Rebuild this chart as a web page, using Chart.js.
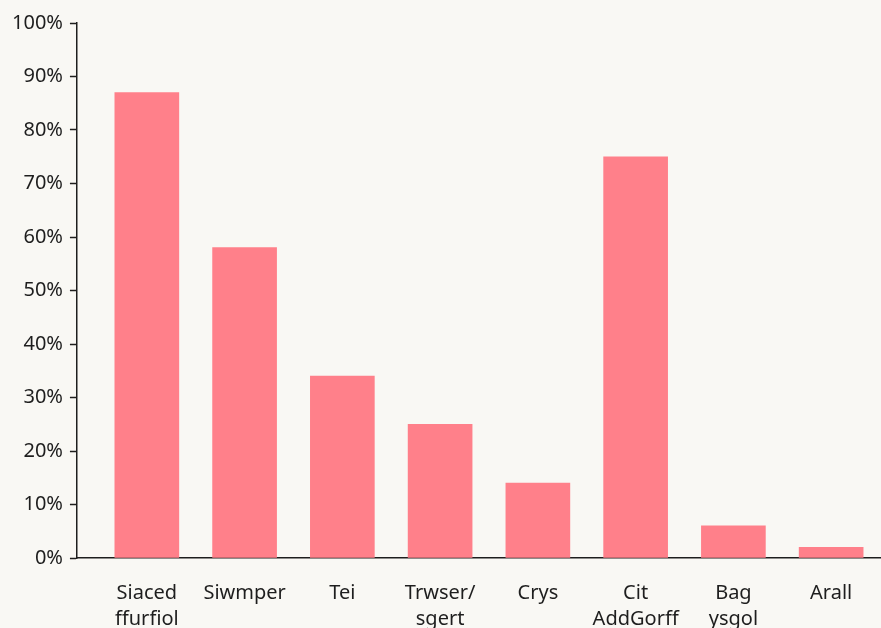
<!DOCTYPE html>
<html>
<head>
<meta charset="utf-8">
<script src="https://cdn.jsdelivr.net/npm/chart.js@4/dist/chart.umd.min.js"></script>
<style>
  html, body { margin: 0; padding: 0; background: #f9f8f4; overflow: hidden; }
  #wrap { width: 881px; height: 628px; }
</style>
</head>
<body>
<div id="wrap"><canvas id="grafico"></canvas></div>
<script>
const categorias = [
  ["Siaced", "ffurfiol"],
  "Siwmper",
  "Tei",
  ["Trwser/", "sgert"],
  "Crys",
  ["Cit", "AddGorff"],
  ["Bag", "ysgol"],
  "Arall",
];
const valores = [87, 58, 34, 25, 14, 75, 6, 2];

Chart.defaults.font.family = "'Noto Sans', sans-serif";
Chart.defaults.color = "#1e1e1e";

// barras sobre eje lineal para dejar hueco entre el eje y la primera barra
new Chart(document.getElementById("grafico"), {
  type: "bar",
  data: {
    datasets: [
      {
        data: valores.map((v, i) => ({ x: i, y: v })),
        backgroundColor: "#ff808a",
        barThickness: 64,
      },
    ],
  },
  options: {
    responsive: true,
    maintainAspectRatio: false,
    animation: false,
    layout: { padding: { top: 23, right: 0, left: 5, bottom: 0 } },
    plugins: {
      legend: { display: false },
      tooltip: { enabled: false },
    },
    scales: {
      x: {
        type: "linear",
        offset: false,
        min: -0.715,
        max: 7.51,
        grid: { display: false, drawTicks: false },
        border: { display: true, color: "#1e1e1e", width: 1.5 },
        afterFit: (s) => { s.height = 70; }, // las etiquetas se salen por abajo como en el original
        ticks: {
          stepSize: 1,
          includeBounds: false,
          autoSkip: false,
          maxRotation: 0,
          padding: 22,
          font: { size: 20, lineHeight: 1.3 },
          callback: (v) => categorias[v],
        },
      },
      y: {
        min: 0,
        max: 100,
        grid: { drawOnChartArea: false, tickLength: 7, color: "#1e1e1e", tickWidth: 1.5 },
        border: { display: true, color: "#1e1e1e", width: 1.5 },
        ticks: {
          stepSize: 10,
          padding: 7,
          font: { size: 20 },
          callback: (v) => v + "%",
        },
      },
    },
  },
});
</script>
</body>
</html>
